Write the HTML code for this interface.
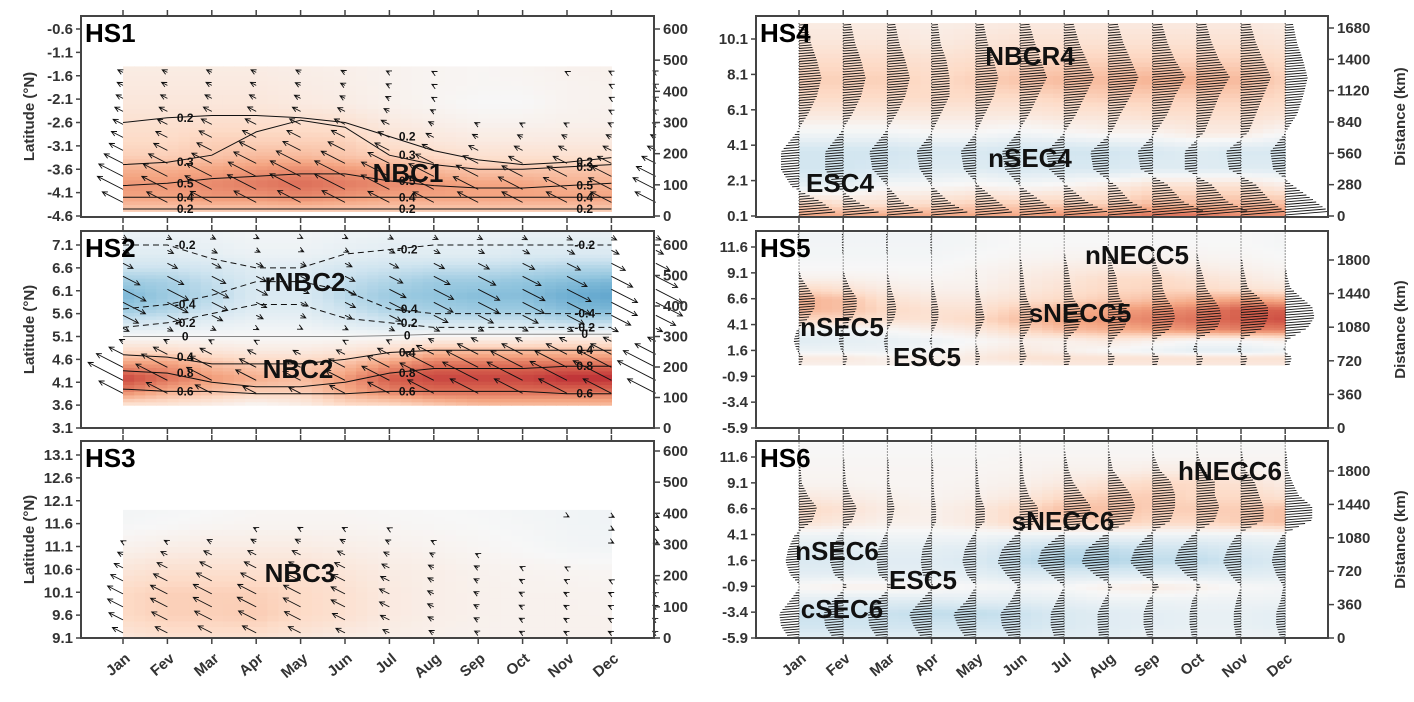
<!DOCTYPE html>
<html><head><meta charset="utf-8"><style>
body{margin:0;background:#fff}
svg text{font-family:"Liberation Sans",sans-serif;font-weight:bold}
</style></head><body>
<svg id="c" width="1414" height="697" xmlns="http://www.w3.org/2000/svg"></svg>
<script>
const months=["Jan","Fev","Mar","Apr","May","Jun","Jul","Aug","Sep","Oct","Nov","Dec"];
const p1Lat=[-4.5,-4.2,-3.9,-3.6,-3.3,-3.0,-2.6,-2.2,-1.8,-1.4];
const p1Val=[
[0.3,0.3,0.3,0.3,0.3,0.3,0.3,0.3,0.3,0.3,0.3,0.3],
[0.5,0.5,0.55,0.55,0.6,0.55,0.5,0.5,0.5,0.5,0.5,0.5],
[0.55,0.55,0.6,0.65,0.7,0.65,0.6,0.55,0.5,0.5,0.45,0.45],
[0.45,0.45,0.5,0.55,0.6,0.55,0.5,0.4,0.35,0.35,0.35,0.35],
[0.3,0.3,0.35,0.4,0.4,0.35,0.3,0.25,0.2,0.2,0.2,0.2],
[0.25,0.25,0.3,0.3,0.3,0.3,0.2,0.15,0.12,0.12,0.12,0.12],
[0.2,0.2,0.22,0.22,0.22,0.2,0.12,0.08,0.05,0.05,0.06,0.06],
[0.15,0.15,0.15,0.15,0.12,0.1,0.06,0.03,0.0,0.0,0.04,0.05],
[0.12,0.12,0.12,0.12,0.1,0.08,0.05,0.03,0.02,0.02,0.04,0.05],
[0.1,0.1,0.1,0.1,0.08,0.07,0.05,0.03,0.02,0.03,0.05,0.06]];
const p2Lat=[3.6,3.9,4.2,4.5,4.8,5.1,5.4,5.7,6.0,6.3,6.6,6.9,7.4];
const p2Val=[
[0.2,0.2,0.1,0.0,0.1,0.3,0.3,0.4,0.5,0.5,0.5,0.5],
[0.8,0.6,0.5,0.4,0.4,0.6,0.8,0.9,0.9,0.9,0.9,0.9],
[1.1,0.9,0.7,0.6,0.5,0.7,1.0,1.1,1.1,1.1,1.2,1.2],
[0.7,0.7,0.5,0.4,0.4,0.5,0.7,0.9,0.9,0.9,0.9,0.9],
[0.3,0.3,0.2,0.15,0.15,0.2,0.3,0.5,0.5,0.5,0.5,0.5],
[0.0,0.0,0.0,0.0,0.0,0.0,0.0,0.05,0.05,0.05,0.1,0.1],
[-0.3,-0.25,-0.15,-0.1,-0.1,-0.2,-0.3,-0.3,-0.3,-0.3,-0.4,-0.4],
[-0.6,-0.5,-0.35,-0.2,-0.2,-0.35,-0.5,-0.55,-0.6,-0.6,-0.7,-0.75],
[-0.75,-0.6,-0.45,-0.25,-0.25,-0.45,-0.6,-0.65,-0.7,-0.7,-0.8,-0.85],
[-0.6,-0.55,-0.4,-0.25,-0.25,-0.4,-0.5,-0.6,-0.6,-0.65,-0.7,-0.75],
[-0.35,-0.35,-0.3,-0.2,-0.2,-0.3,-0.35,-0.4,-0.4,-0.45,-0.5,-0.5],
[-0.2,-0.2,-0.15,-0.1,-0.1,-0.15,-0.2,-0.2,-0.2,-0.25,-0.25,-0.25],
[-0.1,-0.1,-0.08,-0.05,-0.05,-0.08,-0.1,-0.1,-0.1,-0.12,-0.12,-0.12]];
const p3Lat=[9.1,9.6,10.1,10.6,11.1,11.6,11.9];
const p3Val=[
[0.15,0.2,0.2,0.2,0.15,0.1,0.08,0.06,0.05,0.05,0.05,0.05],
[0.25,0.3,0.3,0.32,0.25,0.2,0.12,0.08,0.06,0.05,0.05,0.05],
[0.25,0.3,0.3,0.3,0.25,0.2,0.12,0.08,0.06,0.05,0.05,0.04],
[0.15,0.2,0.2,0.2,0.2,0.15,0.1,0.08,0.05,0.04,0.03,0.02],
[0.05,0.08,0.1,0.1,0.1,0.08,0.06,0.04,0.02,0.0,-0.03,-0.04],
[-0.02,0.0,0.02,0.03,0.03,0.03,0.02,0.01,0.0,-0.02,-0.04,-0.05],
[-0.03,-0.02,0.0,0.02,0.02,0.02,0.01,0.0,-0.01,-0.03,-0.04,-0.05]];
const p4Lat=[0.1,0.8,1.8,2.8,3.8,4.8,5.8,6.8,7.8,8.8,9.8,11.0];
const p4Val=[
[0.25,0.25,0.25,0.25,0.25,0.25,0.3,0.3,0.35,0.35,0.3,0.3],
[0.15,0.1,0.1,0.12,0.15,0.15,0.15,0.15,0.2,0.2,0.2,0.2],
[-0.05,-0.05,0.0,0.0,0.02,0.0,0.02,0.05,0.1,0.1,0.1,0.05],
[-0.12,-0.12,-0.1,-0.08,-0.08,-0.1,-0.1,-0.1,-0.08,-0.08,-0.08,-0.08],
[-0.12,-0.12,-0.12,-0.1,-0.1,-0.12,-0.12,-0.12,-0.1,-0.08,-0.1,-0.1],
[-0.02,-0.02,-0.02,0.0,0.0,-0.02,0.0,0.02,0.02,0.05,0.05,0.0],
[0.06,0.06,0.06,0.06,0.06,0.06,0.08,0.08,0.1,0.1,0.1,0.08],
[0.12,0.12,0.12,0.12,0.12,0.12,0.14,0.15,0.15,0.15,0.15,0.12],
[0.15,0.15,0.15,0.12,0.15,0.18,0.2,0.2,0.22,0.22,0.2,0.15],
[0.12,0.12,0.12,0.1,0.12,0.14,0.15,0.15,0.15,0.15,0.15,0.12],
[0.08,0.08,0.08,0.06,0.08,0.1,0.1,0.1,0.1,0.1,0.1,0.08],
[0.05,0.05,0.05,0.04,0.05,0.06,0.06,0.06,0.06,0.06,0.06,0.05]];
const p5Lat=[0.2,0.9,1.6,2.6,3.6,4.6,5.6,6.6,7.6,8.6,9.6,10.6,12.0,13.0];
const p5Val=[
[0.05,0.05,0.05,0.05,0.05,0.05,0.1,0.1,0.1,0.1,0.1,0.1],
[0.1,0.1,0.05,0.05,0.1,0.15,0.15,0.15,0.15,0.15,0.15,0.15],
[-0.05,-0.05,-0.05,0.0,0.05,0.1,0.05,0.0,-0.05,-0.1,-0.1,-0.05],
[-0.12,-0.1,-0.08,-0.05,0.0,0.05,0.05,0.1,0.05,0.0,0.0,0.05],
[-0.05,-0.05,0.0,0.05,0.1,0.2,0.3,0.35,0.4,0.45,0.5,0.5],
[0.2,0.2,0.15,0.15,0.2,0.3,0.4,0.45,0.5,0.55,0.6,0.65],
[0.35,0.3,0.2,0.15,0.15,0.25,0.35,0.4,0.45,0.5,0.6,0.6],
[0.35,0.3,0.15,0.1,0.1,0.15,0.2,0.25,0.3,0.35,0.4,0.35],
[0.2,0.15,0.08,0.05,0.05,0.1,0.15,0.2,0.22,0.2,0.15,0.12],
[0.05,0.05,0.03,0.02,0.03,0.08,0.12,0.18,0.2,0.15,0.1,0.05],
[0.0,0.0,0.0,0.0,0.02,0.05,0.08,0.1,0.1,0.08,0.05,0.02],
[-0.02,-0.02,-0.02,-0.02,0.0,0.02,0.03,0.04,0.04,0.03,0.02,0.0],
[-0.03,-0.03,-0.03,-0.03,-0.02,0.0,0.0,0.0,0.0,0.0,0.0,-0.02],
[-0.03,-0.03,-0.03,-0.03,-0.02,0.0,0.0,0.0,0.0,0.0,0.0,-0.02]];
const p6Lat=[-6.0,-4.6,-3.4,-2.2,-0.9,0.3,1.6,2.8,4.1,5.3,6.6,7.8,9.1,10.3,11.6,13.0];
const p6Val=[
[-0.1,-0.1,-0.1,-0.1,-0.1,-0.1,-0.1,-0.1,-0.05,-0.05,-0.05,-0.05],
[-0.2,-0.2,-0.2,-0.2,-0.2,-0.2,-0.15,-0.12,-0.1,-0.08,-0.08,-0.1],
[-0.22,-0.22,-0.22,-0.25,-0.25,-0.22,-0.15,-0.12,-0.1,-0.08,-0.08,-0.1],
[-0.1,-0.12,-0.12,-0.12,-0.1,-0.1,-0.08,-0.05,-0.05,-0.05,-0.05,-0.05],
[0.02,0.05,0.05,0.03,0.0,-0.02,0.0,0.05,0.08,0.05,0.0,-0.02],
[-0.1,-0.1,-0.1,-0.1,-0.1,-0.15,-0.15,-0.15,-0.12,-0.12,-0.12,-0.1],
[-0.15,-0.15,-0.12,-0.12,-0.15,-0.25,-0.3,-0.3,-0.25,-0.25,-0.2,-0.15],
[-0.12,-0.12,-0.1,-0.1,-0.12,-0.2,-0.25,-0.25,-0.2,-0.2,-0.15,-0.12],
[-0.05,-0.05,-0.03,-0.03,-0.03,-0.05,-0.05,-0.05,-0.05,-0.05,-0.05,-0.03],
[0.15,0.1,0.05,0.05,0.1,0.2,0.25,0.25,0.2,0.2,0.25,0.3],
[0.2,0.15,0.08,0.05,0.1,0.2,0.3,0.3,0.25,0.25,0.25,0.3],
[0.1,0.08,0.05,0.03,0.05,0.1,0.2,0.25,0.25,0.2,0.2,0.15],
[0.03,0.03,0.02,0.02,0.03,0.05,0.1,0.15,0.2,0.2,0.15,0.08],
[0.02,0.02,0.02,0.02,0.02,0.03,0.05,0.05,0.08,0.08,0.05,0.03],
[0.01,0.01,0.01,0.01,0.01,0.02,0.02,0.02,0.02,0.02,0.02,0.02],
[0.0,0.0,0.0,0.0,0.0,0.0,0.0,0.0,0.0,0.0,0.0,0.0]];
// contour lines: level labels and latitude of each line per month
const p1CLevels=["0.2","0.3","0.5","0.4","0.2"];
const p1CLats=[
[-2.6,-2.5,-2.45,-2.45,-2.5,-2.6,-2.9,-3.2,-3.4,-3.5,-3.45,-3.35],
[-3.5,-3.45,-3.3,-2.8,-2.55,-2.7,-3.3,-3.5,-3.6,-3.6,-3.55,-3.5],
[-3.95,-3.9,-3.8,-3.75,-3.7,-3.7,-3.85,-3.95,-4.0,-4.0,-3.95,-3.9],
[-4.2,-4.2,-4.2,-4.2,-4.2,-4.2,-4.2,-4.2,-4.2,-4.2,-4.2,-4.2],
[-4.45,-4.45,-4.45,-4.45,-4.45,-4.45,-4.45,-4.45,-4.45,-4.45,-4.45,-4.45]];
const p2CLevels=["-0.2","-0.4","0","0.4","0.8","0.6","-0.2"];
const p2CLats=[
[5.3,5.4,5.6,5.8,5.8,5.5,5.4,5.3,5.3,5.3,5.3,5.3],
[5.7,5.8,6.0,6.3,6.3,6.1,5.7,5.6,5.6,5.6,5.6,5.6],
[5.1,5.1,5.1,5.1,5.1,5.1,5.12,5.15,5.15,5.15,5.15,5.15],
[4.7,4.65,4.5,4.5,4.5,4.6,4.75,4.8,4.8,4.8,4.8,4.8],
[4.35,4.3,4.1,4.0,4.0,4.1,4.3,4.4,4.4,4.4,4.45,4.45],
[3.95,3.9,3.9,3.85,3.85,3.85,3.9,3.9,3.9,3.9,3.85,3.85],
[7.1,7.1,6.8,6.6,6.6,6.9,7.0,7.1,7.1,7.1,7.1,7.1]];
const p1Ticks=[-0.6,-1.1,-1.6,-2.1,-2.6,-3.1,-3.6,-4.1,-4.6];
const p2Ticks=[7.1,6.6,6.1,5.6,5.1,4.6,4.1,3.6,3.1];
const p3Ticks=[13.1,12.6,12.1,11.6,11.1,10.6,10.1,9.6,9.1];
const p4Ticks=[10.1,8.1,6.1,4.1,2.1,0.1];
const p56Ticks=[11.6,9.1,6.6,4.1,1.6,-0.9,-3.4,-5.9];
const dLeft=[0,100,200,300,400,500,600];
const d4=[0,280,560,840,1120,1400,1680];
const d56=[0,360,720,1080,1440,1800];

const S=document.getElementById('c');const NS='http://www.w3.org/2000/svg';
function mk(t,a,p){const e=document.createElementNS(NS,t);for(const k in a)e.setAttribute(k,a[k]);(p||S).appendChild(e);return e;}
function txt(p,x,y,s,o){const e=mk('text',Object.assign({x:x,y:y},o||{}),p);e.textContent=s;return e;}
const stops=[[-1,[33,102,172]],[-0.75,[67,147,195]],[-0.5,[146,197,222]],[-0.25,[209,229,240]],[0,[247,247,247]],[0.25,[253,219,199]],[0.5,[244,165,130]],[0.75,[214,96,77]],[1,[178,24,43]]];
function cmap(v){v=Math.max(-1,Math.min(1,v));for(let i=0;i<stops.length-1;i++){const a=stops[i],b=stops[i+1];if(v<=b[0]){const t=(v-a[0])/(b[0]-a[0]);const c=a[1].map((q,j)=>Math.round(q+(b[1][j]-q)*t));return 'rgb('+c+')';}}return 'rgb(178,24,43)';}
function sample(lat,val,la,m){ // interpolate value at latitude la and month m
 let r=0;while(r<lat.length-2&&la>lat[r+1])r++;
 const fr=Math.max(0,Math.min(1,(la-lat[r])/(lat[r+1]-lat[r])));
 const mi=Math.max(0,Math.min(10,Math.floor(m))),fm=Math.max(0,Math.min(1,m-mi));
 const a=val[r][mi]+(val[r][mi+1]-val[r][mi])*fm,b=val[r+1][mi]+(val[r+1][mi+1]-val[r+1][mi])*fm;
 return a+(b-a)*fr;}

function panel(o){
 const g=mk('g',{});
 
 
 const ys=v=>o.y0+(v-o.lmin)/(o.lmax-o.lmin)*(o.y1-o.y0);
 const xs=m=>o.jan+m*o.step;
 const hm=mk('g',{},g);
 const sub=4;
 for(let r=0;r<o.lat.length-1;r++){for(let q=0;q<sub;q++){
  const la=o.lat[r]+(o.lat[r+1]-o.lat[r])*q/sub,lb=o.lat[r]+(o.lat[r+1]-o.lat[r])*(q+1)/sub;
  for(let m=0;m<11;m++){for(let k=0;k<sub;k++){
   const v=sample(o.lat,o.val,(la+lb)/2,m+(k+0.5)/sub)/o.vmax;
   const c=mk('rect',{x:xs(m+k/sub).toFixed(1),y:Math.min(ys(la),ys(lb)).toFixed(1),width:(o.step/sub+0.6).toFixed(1),height:(Math.abs(ys(la)-ys(lb))+0.6).toFixed(1),fill:cmap(v)},hm);
   
   
  }}
 }}
 const latTop=o.lat[o.lat.length-1],latBot=o.lat[0];
 if(o.dots){for(let m=0;m<12;m++){const l=mk('line',{x1:xs(m),x2:xs(m),y1:ys(latTop),y2:ys(latBot),stroke:'#333','stroke-dasharray':'1,2','stroke-width':1},g);}}
 // contours
 (o.cl||[]).forEach((lats,i)=>{
  const lvl=o.clv[i];const pts=lats.map((la,m)=>xs(m).toFixed(1)+','+ys(la).toFixed(1)).join(' ');
  const pl=mk('polyline',{points:pts,fill:'none',stroke:lvl==='0'?'#888':'#111','stroke-width':1,'stroke-dasharray':lvl.startsWith('-')?'6,4':'none'},g);
  
  [1,6,10].forEach(m=>{const t=txt(g,xs(m+0.4),ys(lats[m])+4,lvl,{'font-size':12,fill:'#111','text-anchor':'middle'});});
 });
 // quiver arrows (derived from field values)
 const qg=mk('g',{stroke:'#111',fill:'none'},g);
 if(o.dots){
  for(let m=0;m<12;m++){for(let y=ys(latTop)+2;y<ys(latBot);y+=2.6){
   const la=o.lmin+(y-o.y0)/(o.y1-o.y0)*(o.lmax-o.lmin);const v=sample(o.lat,o.val,la,m);
   const L=v*o.qs;if(Math.abs(L)<1)continue;const x0=xs(m);
   const a=mk('line',{x1:x0,y1:y.toFixed(1),x2:(x0+L).toFixed(1),y2:(y-L*0.08).toFixed(1),'stroke-width':0.9},qg);
   
  }}
 } else {
  for(let m=-0.5;m<=11.6;m+=1){for(let y=ys(latTop)+6;y<ys(latBot);y+=13){
   const la=o.lmin+(y-o.y0)/(o.y1-o.y0)*(o.lmax-o.lmin);const v=sample(o.lat,o.val,la,Math.max(0,Math.min(11,m)));
   const L=v*o.qs;const x0=xs(m+0.5);const dx=-L*0.88,dy=-L*0.45;
   const len=Math.hypot(dx,dy);if(len<2)continue;const ux=dx/len,uy=dy/len;const x1=x0+dx,y1=y+dy;
   const a=mk('path',{d:`M${x0.toFixed(1)},${y.toFixed(1)}L${x1.toFixed(1)},${y1.toFixed(1)}M${(x1-ux*5-uy*2.5).toFixed(1)},${(y1-uy*5+ux*2.5).toFixed(1)}L${x1.toFixed(1)},${y1.toFixed(1)}L${(x1-ux*5+uy*2.5).toFixed(1)},${(y1-uy*5-ux*2.5).toFixed(1)}`,'stroke-width':0.9},qg);
   
  }}
 }
 const fr=mk('rect',{x:o.xl,y:o.top,width:o.xr-o.xl,height:o.bot-o.top,fill:'none',stroke:'#444','stroke-width':2},g);
 
 for(let m=-1;m<=12;m++){const x=xs(m);if(x<o.xl||x>o.xr)continue;
  mk('line',{x1:x,x2:x,y1:o.top,y2:o.top-6,stroke:'#444','stroke-width':1.5},g);
  mk('line',{x1:x,x2:x,y1:o.bot,y2:o.bot+6,stroke:'#444','stroke-width':1.5},g);}
 o.ticks.forEach(v=>{const y=ys(v);mk('line',{x1:o.xl-5,x2:o.xl,y1:y,y2:y,stroke:'#444','stroke-width':1.5},g);
  const t=txt(g,o.xl-8,y+5,v.toFixed(1),{'text-anchor':'end','font-size':15,fill:'#333'});});
 o.dist.forEach(v=>{const y=o.dy0+(v/o.dmax)*(o.dy1-o.dy0);mk('line',{x1:o.xr,x2:o.xr+6,y1:y,y2:y,stroke:'#444','stroke-width':1.5},g);
  const t=txt(g,o.xr+9,y+5,String(v),{'font-size':15,fill:'#333'});});
 const ti=txt(g,o.xl+4,o.top+26,o.title,{'font-size':26,fill:'#000'});
 o.labels.forEach(L=>{const t=txt(g,L[0],L[1],L[2],{'font-size':26,fill:'#111','text-anchor':'middle'});});
 if(o.ylab){const t=txt(g,0,0,o.ylab,{'font-size':15,fill:'#333','text-anchor':'middle',transform:`translate(${o.ylx},${(o.top+o.bot)/2}) rotate(-90)`});}
 if(o.months){months.forEach((mn,i)=>{const t=txt(g,0,0,mn,{'font-size':15,fill:'#333','text-anchor':'end',transform:`translate(${xs(i)+8},${o.bot+22}) rotate(-40)`});});}
}
const L={xl:81,xr:654,jan:123,step:44.4};
const R={xl:756,xr:1328,jan:799,step:44.2,dots:true};
panel(Object.assign({name:'panel-hs1',title:'HS1',top:16,bot:217,lat:p1Lat,val:p1Val,lmin:-0.6,lmax:-4.6,y0:29,y1:216,vmax:1,qs:55,cl:p1CLats,clv:p1CLevels,ticks:p1Ticks,dist:dLeft,dmax:600,dy0:216,dy1:29,ylab:'Latitude (°N)',ylx:34,labels:[[408,182,'NBC1']]},L));
panel(Object.assign({name:'panel-hs2',title:'HS2',top:231,bot:428,lat:p2Lat,val:p2Val,lmin:7.1,lmax:3.1,y0:245,y1:428,vmax:1.3,qs:38,cl:p2CLats,clv:p2CLevels,ticks:p2Ticks,dist:dLeft,dmax:600,dy0:428,dy1:245,ylab:'Latitude (°N)',ylx:34,labels:[[305,291,'rNBC2'],[298,378,'NBC2']]},L));
panel(Object.assign({name:'panel-hs3',title:'HS3',top:441,bot:638,lat:p3Lat,val:p3Val,lmin:13.1,lmax:9.1,y0:455,y1:638,vmax:1,qs:70,ticks:p3Ticks,dist:dLeft,dmax:600,dy0:638,dy1:451,ylab:'Latitude (°N)',ylx:34,labels:[[300,582,'NBC3']],months:true},L));
panel(Object.assign({name:'panel-hs4',title:'HS4',top:16,bot:217,lat:p4Lat,val:p4Val,lmin:10.1,lmax:0.1,y0:39,y1:216,vmax:0.5,qs:150,ticks:p4Ticks,dist:d4,dmax:1680,dy0:216,dy1:28,ylab:'Distance (km)',ylx:1405,labels:[[1030,65,'NBCR4'],[1030,167,'nSEC4'],[840,192,'ESC4']]},R));
panel(Object.assign({name:'panel-hs5',title:'HS5',top:231,bot:428,lat:p5Lat,val:p5Val,lmin:11.6,lmax:-5.9,y0:247,y1:428,vmax:0.8,qs:45,ticks:p56Ticks,dist:d56,dmax:1800,dy0:428,dy1:260,ylab:'Distance (km)',ylx:1405,labels:[[1137,264,'nNECC5'],[1080,322,'sNECC5'],[842,336,'nSEC5'],[927,366,'ESC5']]},R));
panel(Object.assign({name:'panel-hs6',title:'HS6',top:441,bot:638,lat:p6Lat,val:p6Val,lmin:11.6,lmax:-5.9,y0:457,y1:638,vmax:0.8,qs:90,ticks:p56Ticks,dist:d56,dmax:1800,dy0:638,dy1:471,ylab:'Distance (km)',ylx:1405,labels:[[1230,480,'hNECC6'],[1063,530,'sNECC6'],[837,560,'nSEC6'],[923,589,'ESC5'],[842,618,'cSEC6']],months:true},R));
</script>
</body></html>
